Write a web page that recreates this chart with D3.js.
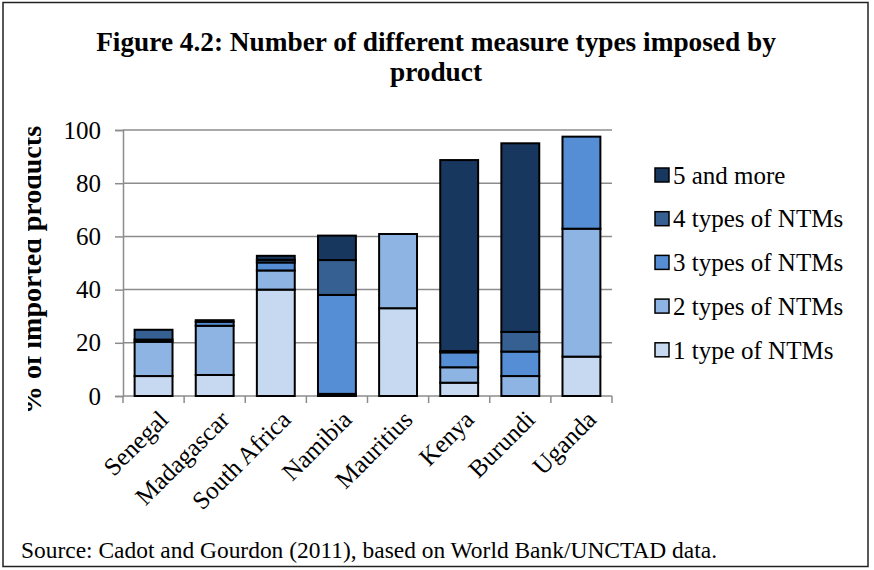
<!DOCTYPE html>
<html>
<head>
<meta charset="utf-8">
<script src="https://cdn.jsdelivr.net/npm/d3@7"></script>
<style>
  body { margin: 0; background: #fff; }
  svg text { font-family: "Liberation Serif", "Times New Roman", serif !important; fill: #000; }
</style>
</head>
<body>
<div id="chart"></div>
<script>
// Figure 4.2 - stacked bars, share of imported products by number of NTM types

const width = 874;
const height = 570;
const margin = { left: 123, right: 262, top: 130, bottom: 174 };
const serif = "'Liberation Serif', 'Times New Roman', serif";

// data
const countries = ["Senegal", "Madagascar", "South Africa", "Namibia", "Mauritius", "Kenya", "Burundi", "Uganda"];
const oneType   = [7.5, 7.9, 40, 0.5, 33, 5, 0, 14.8];
const twoTypes  = [12.9, 18.5, 7.2, 0.3, 27.9, 5.8, 7.5, 48.1];
const threeTypes = [0.8, 1.5, 3, 37.2, 0, 5.6, 9.2, 34.6];
const fourTypes = [3.7, 0.6, 1, 13.1, 0, 0.5, 7.4, 0];
const fivePlus  = [0, 0, 1.5, 9.2, 0, 71.8, 70.9, 0];

const seriesNames = ["1 type of NTMs", "2 types of NTMs", "3 types of NTMs", "4 types of NTMs", "5 and more"];
const seriesValues = [oneType, twoTypes, threeTypes, fourTypes, fivePlus];
const colors = ["#c6d9f1", "#8eb4e3", "#558ed5", "#376092", "#17375e"];
const yTicks = [0, 20, 40, 60, 80, 100];

// rows for d3.stack
const rows = countries.map((c, i) => {
  const r = { country: c };
  seriesNames.forEach((s, j) => { r[s] = seriesValues[j][i]; });
  return r;
});

const svg = d3.select("#chart")
  .append("svg")
  .attr("width", width)
  .attr("height", height);

// outer frame
svg.append("rect")
  .attr("x", 3).attr("y", 2.5)
  .attr("width", 865).attr("height", 564)
  .attr("fill", "#fff")
  .attr("stroke", "#222")
  .attr("stroke-width", 1.5);

// title
svg.append("text")
  .attr("x", 436).attr("y", 51)
  .attr("text-anchor", "middle")
  .style("font-family", serif)
  .attr("font-size", "27.3px")
  .attr("font-weight", "bold")
  .text("Figure 4.2: Number of different measure types imposed by");
svg.append("text")
  .attr("x", 436).attr("y", 81)
  .attr("text-anchor", "middle")
  .style("font-family", serif)
  .attr("font-size", "27.3px")
  .attr("font-weight", "bold")
  .text("product");

/* scales */
const x = d3.scaleBand()
  .domain(countries)
  .range([margin.left, width - margin.right])
  .paddingInner(0.38)
  .paddingOuter(0.19);

const y = d3.scaleLinear()
  .domain([0, 100])
  .range([height - margin.bottom, margin.top]);

// gridlines
svg.append("g")
  .selectAll("line")
  .data(yTicks.slice(1))
  .join("line")
  .attr("x1", margin.left).attr("x2", width - margin.right)
  .attr("y1", d => y(d)).attr("y2", d => y(d))
  .attr("stroke", "#8c8c8c")
  .attr("stroke-width", 1.5);

// y axis
const yAxis = svg.append("g")
  .attr("transform", `translate(${margin.left},0)`)
  .call(d3.axisLeft(y).tickValues(yTicks).tickSize(8).tickPadding(14));
yAxis.attr("font-family", null);
yAxis.select(".domain").attr("stroke", "#8c8c8c").attr("stroke-width", 1.5);
yAxis.selectAll(".tick line").attr("stroke", "#8c8c8c").attr("stroke-width", 1.5);
yAxis.selectAll(".tick text")
  .style("font-family", serif)
  .style("font-size", "25px")
  .attr("fill", "#000");

// x axis: ticks between categories like Excel
const step = x.step();
const xAxis = svg.append("g")
  .attr("transform", `translate(0,${y(0)})`);
xAxis.append("line")
  .attr("x1", margin.left).attr("x2", width - margin.right)
  .attr("stroke", "#8c8c8c").attr("stroke-width", 1.5);
xAxis.selectAll(".tk")
  .data(d3.range(countries.length + 1))
  .join("line")
  .attr("class", "tk")
  .attr("x1", i => margin.left + i * step).attr("x2", i => margin.left + i * step)
  .attr("y1", 0).attr("y2", 7)
  .attr("stroke", "#8c8c8c").attr("stroke-width", 1.5);
xAxis.selectAll(".lbl")
  .data(countries)
  .join("text")
  .attr("class", "lbl")
  .attr("transform", d => `translate(${x(d) + x.bandwidth() / 2 + 10},${19}) rotate(-45)`)
  .attr("text-anchor", "end")
  .attr("dy", "0.35em")
  .style("font-family", serif)
  .style("font-size", "25px")
  .text(d => d);

// y axis label, the left part is cut off in the original
svg.append("clipPath")
  .attr("id", "ylab-clip")
  .append("rect")
  .attr("x", 28).attr("y", 100).attr("width", 40).attr("height", 340);
svg.append("g")
  .attr("clip-path", "url(#ylab-clip)")
  .append("text")
  .attr("transform", `translate(41,${(y(0) + y(100)) / 2 + 7}) rotate(-90)`)
  .attr("text-anchor", "middle")
  .style("font-family", serif)
  .style("font-size", "28px")
  .attr("font-weight", "bold")
  .text("% of imported products");

/* bars */
const stacked = d3.stack().keys(seriesNames)(rows);

svg.append("g")
  .selectAll("g")
  .data(stacked)
  .join("g")
  .attr("fill", (d, i) => colors[i])
  .selectAll("rect")
  .data(d => d.filter(p => p[1] - p[0] > 0))
  .join("rect")
  .attr("x", d => x(d.data.country))
  .attr("y", d => y(d[1]))
  .attr("width", x.bandwidth())
  .attr("height", d => y(d[0]) - y(d[1]))
  .attr("stroke", "#000")
  .attr("stroke-width", 2);

/* legend */
const legend = svg.append("g")
  .selectAll("g")
  .data(seriesNames.slice().reverse())
  .join("g")
  .attr("transform", (d, i) => `translate(655,${175 + i * 43.7})`);
legend.append("rect")
  .attr("x", 0).attr("y", -7)
  .attr("width", 14).attr("height", 14)
  .attr("fill", d => colors[seriesNames.indexOf(d)])
  .attr("stroke", "#000")
  .attr("stroke-width", 1.5);
legend.append("text")
  .attr("x", 18).attr("dy", "0.35em")
  .style("font-family", serif)
  .style("font-size", "25px")
  .text(d => d);

// source note
svg.append("text")
  .attr("x", 21).attr("y", 558)
  .style("font-family", serif)
  .style("font-size", "23px")
  .attr("textLength", 696)
  .attr("lengthAdjust", "spacingAndGlyphs")
  .text("Source: Cadot and Gourdon (2011), based on World Bank/UNCTAD data.");
</script>
</body>
</html>
